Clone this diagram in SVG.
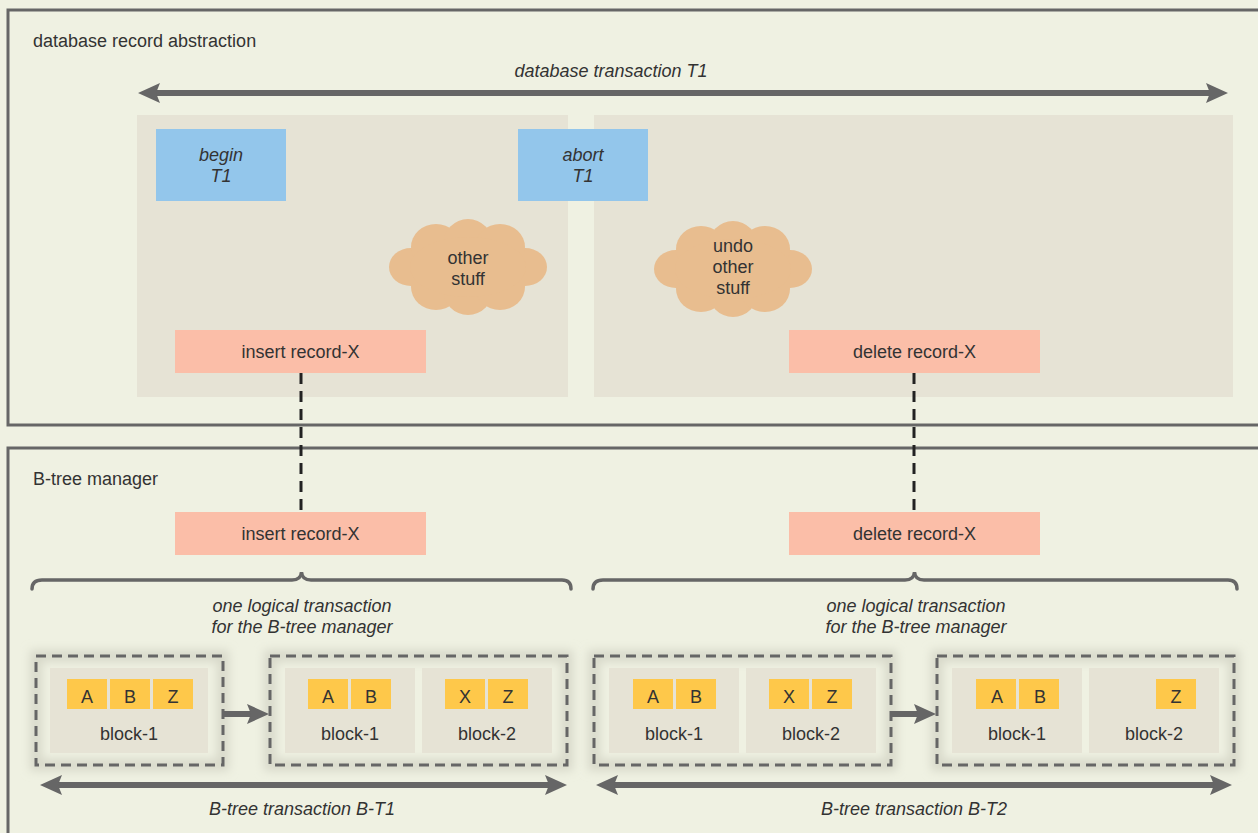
<svg xmlns="http://www.w3.org/2000/svg" width="1258" height="833" viewBox="0 0 1258 833">
<defs>
<style>
text{font-family:"Liberation Sans",Arial,sans-serif;font-size:18px;fill:#333}
.c{text-anchor:middle}
.i{font-style:italic}
.frame{fill:none;stroke:#666;stroke-width:3}
.panel{fill:#e6e3d5}
.blue{fill:#93c6eb}
.salmon{fill:#fbbea8}
.cloud{fill:#e8bd8f}
.blk{fill:#e6e3d5}
.item{fill:#fec84a}
.dbox{fill:none;stroke:#666;stroke-width:3;stroke-dasharray:10 6}
.glow{fill:none;stroke:#d8d9ca;stroke-width:12;filter:url(#blur)}
.arr{fill:none;stroke:#666;stroke-width:6}
.dash{fill:none;stroke:#222;stroke-width:3;stroke-dasharray:11 7}
.brace{fill:none;stroke:#666;stroke-width:3.5;stroke-linecap:round}
</style>
<filter id="blur" x="-20%" y="-30%" width="140%" height="160%"><feGaussianBlur stdDeviation="5"/></filter>
<marker id="ah" viewBox="-8 -11 24 22" refX="0" refY="0" markerWidth="24" markerHeight="22" markerUnits="userSpaceOnUse" orient="auto-start-reverse">
<path d="M15,0 L-7,-10 L-3,0 L-7,10 Z" fill="#666"/>
</marker>
<g id="cloudshape">
<ellipse cx="-57" cy="0" rx="22" ry="19"/>
<ellipse cx="57" cy="0" rx="22" ry="19"/>
<ellipse cx="-32" cy="-20" rx="25" ry="23"/>
<ellipse cx="0" cy="-22" rx="25" ry="26"/>
<ellipse cx="32" cy="-20" rx="25" ry="23"/>
<ellipse cx="-32" cy="20" rx="25" ry="23"/>
<ellipse cx="0" cy="22" rx="25" ry="26"/>
<ellipse cx="32" cy="20" rx="25" ry="23"/>
<ellipse cx="0" cy="0" rx="58" ry="30"/>
</g>
</defs>
<rect width="1258" height="833" fill="#eff1e2"/>

<g id="top-frame">
<rect class="frame" x="8" y="10" width="1265" height="415"/>
<text x="33" y="47">database record abstraction</text>
</g>
<g id="bottom-frame">
<rect class="frame" x="8" y="448" width="1265" height="420"/>
<text x="33" y="485">B-tree manager</text>
</g>

<g id="panel-left"><rect class="panel" x="137" y="115" width="431" height="282"/></g>
<g id="panel-right"><rect class="panel" x="594" y="115" width="639" height="282"/></g>

<g id="begin-t1">
<rect class="blue" x="156" y="129" width="130" height="72"/>
<text class="c i" x="221" y="161">begin</text>
<text class="c i" x="221" y="182">T1</text>
</g>
<g id="abort-t1">
<rect class="blue" x="518" y="129" width="130" height="72"/>
<text class="c i" x="583" y="161">abort</text>
<text class="c i" x="583" y="182">T1</text>
</g>

<g id="cloud-other">
<use href="#cloudshape" class="cloud" transform="translate(468,267)"/>
<text class="c" x="468" y="264">other</text>
<text class="c" x="468" y="285">stuff</text>
</g>
<g id="cloud-undo">
<use href="#cloudshape" class="cloud" transform="translate(733,269)"/>
<text class="c" x="733" y="252">undo</text>
<text class="c" x="733" y="273">other</text>
<text class="c" x="733" y="294">stuff</text>
</g>

<g id="insert-top">
<rect class="salmon" x="175" y="330" width="251" height="43"/>
<text class="c" x="300.5" y="358">insert record-X</text>
</g>
<g id="delete-top">
<rect class="salmon" x="789" y="330" width="251" height="43"/>
<text class="c" x="914.5" y="358">delete record-X</text>
</g>
<g id="insert-bottom">
<rect class="salmon" x="175" y="512" width="251" height="43"/>
<text class="c" x="300.5" y="540">insert record-X</text>
</g>
<g id="delete-bottom">
<rect class="salmon" x="789" y="512" width="251" height="43"/>
<text class="c" x="914.5" y="540">delete record-X</text>
</g>

<g id="brace-left">
<path class="brace" d="M32,589 Q32,580 42,580 L292,580 Q301,580 301.5,572 Q302,580 311,580 L562,580 Q571,580 571,589"/>
<text class="c i" x="302" y="612">one logical transaction</text>
<text class="c i" x="302" y="633">for the B-tree manager</text>
</g>
<g id="brace-right">
<path class="brace" d="M593,589 Q593,580 603,580 L905,580 Q914,580 914.5,572 Q915,580 924,580 L1228,580 Q1237,580 1237,589"/>
<text class="c i" x="916" y="612">one logical transaction</text>
<text class="c i" x="916" y="633">for the B-tree manager</text>
</g>

<g id="state-1">
<rect class="glow" x="36" y="656" width="187" height="109"/>
<rect class="blk" x="50" y="668" width="158" height="85"/>
<rect class="item" x="67" y="679" width="40" height="30"/>
<rect class="item" x="110" y="679" width="40" height="30"/>
<rect class="item" x="153" y="679" width="40" height="30"/>
<text class="c" x="87" y="703">A</text>
<text class="c" x="130" y="703">B</text>
<text class="c" x="173" y="703">Z</text>
<text class="c" x="129" y="740">block-1</text>
<rect class="dbox" x="36" y="656" width="187" height="109"/>
</g>

<g id="state-2">
<rect class="glow" x="270" y="656" width="297" height="109"/>
<rect class="blk" x="285" y="668" width="130" height="85"/>
<rect class="blk" x="422" y="668" width="130" height="85"/>
<rect class="item" x="308" y="679" width="40" height="30"/>
<rect class="item" x="351" y="679" width="40" height="30"/>
<rect class="item" x="445" y="679" width="40" height="30"/>
<rect class="item" x="488" y="679" width="40" height="30"/>
<text class="c" x="328" y="703">A</text>
<text class="c" x="371" y="703">B</text>
<text class="c" x="465" y="703">X</text>
<text class="c" x="508" y="703">Z</text>
<text class="c" x="350" y="740">block-1</text>
<text class="c" x="487" y="740">block-2</text>
<rect class="dbox" x="270" y="656" width="297" height="109"/>
</g>

<g id="state-3">
<rect class="glow" x="594" y="656" width="297" height="109"/>
<rect class="blk" x="609" y="668" width="130" height="85"/>
<rect class="blk" x="746" y="668" width="130" height="85"/>
<rect class="item" x="633" y="679" width="40" height="30"/>
<rect class="item" x="676" y="679" width="40" height="30"/>
<rect class="item" x="769" y="679" width="40" height="30"/>
<rect class="item" x="812" y="679" width="40" height="30"/>
<text class="c" x="653" y="703">A</text>
<text class="c" x="696" y="703">B</text>
<text class="c" x="789" y="703">X</text>
<text class="c" x="832" y="703">Z</text>
<text class="c" x="674" y="740">block-1</text>
<text class="c" x="811" y="740">block-2</text>
<rect class="dbox" x="594" y="656" width="297" height="109"/>
</g>

<g id="state-4">
<rect class="glow" x="937" y="656" width="297" height="109"/>
<rect class="blk" x="952" y="668" width="130" height="85"/>
<rect class="blk" x="1089" y="668" width="130" height="85"/>
<rect class="item" x="976" y="679" width="40" height="30"/>
<rect class="item" x="1019" y="679" width="40" height="30"/>
<rect class="item" x="1156" y="679" width="40" height="30"/>
<text class="c" x="997" y="703">A</text>
<text class="c" x="1040" y="703">B</text>
<text class="c" x="1176" y="703">Z</text>
<text class="c" x="1017" y="740">block-1</text>
<text class="c" x="1154" y="740">block-2</text>
<rect class="dbox" x="937" y="656" width="297" height="109"/>
</g>

<g id="connectors">
<line class="arr" x1="153" y1="93" x2="1213" y2="93" marker-start="url(#ah)" marker-end="url(#ah)"/>
<text class="c i" x="611" y="77">database transaction T1</text>
<line class="dash" x1="301" y1="373" x2="301" y2="512"/>
<line class="dash" x1="914" y1="373" x2="914" y2="512"/>
<line class="arr" x1="223" y1="714" x2="254" y2="714" marker-end="url(#ah)"/>
<line class="arr" x1="891" y1="714" x2="921" y2="714" marker-end="url(#ah)"/>
<line class="arr" x1="55" y1="785" x2="552" y2="785" marker-start="url(#ah)" marker-end="url(#ah)"/>
<text class="c i" x="302" y="815">B-tree transaction B-T1</text>
<line class="arr" x1="611" y1="785" x2="1217" y2="785" marker-start="url(#ah)" marker-end="url(#ah)"/>
<text class="c i" x="914" y="815">B-tree transaction B-T2</text>
</g>
</svg>
